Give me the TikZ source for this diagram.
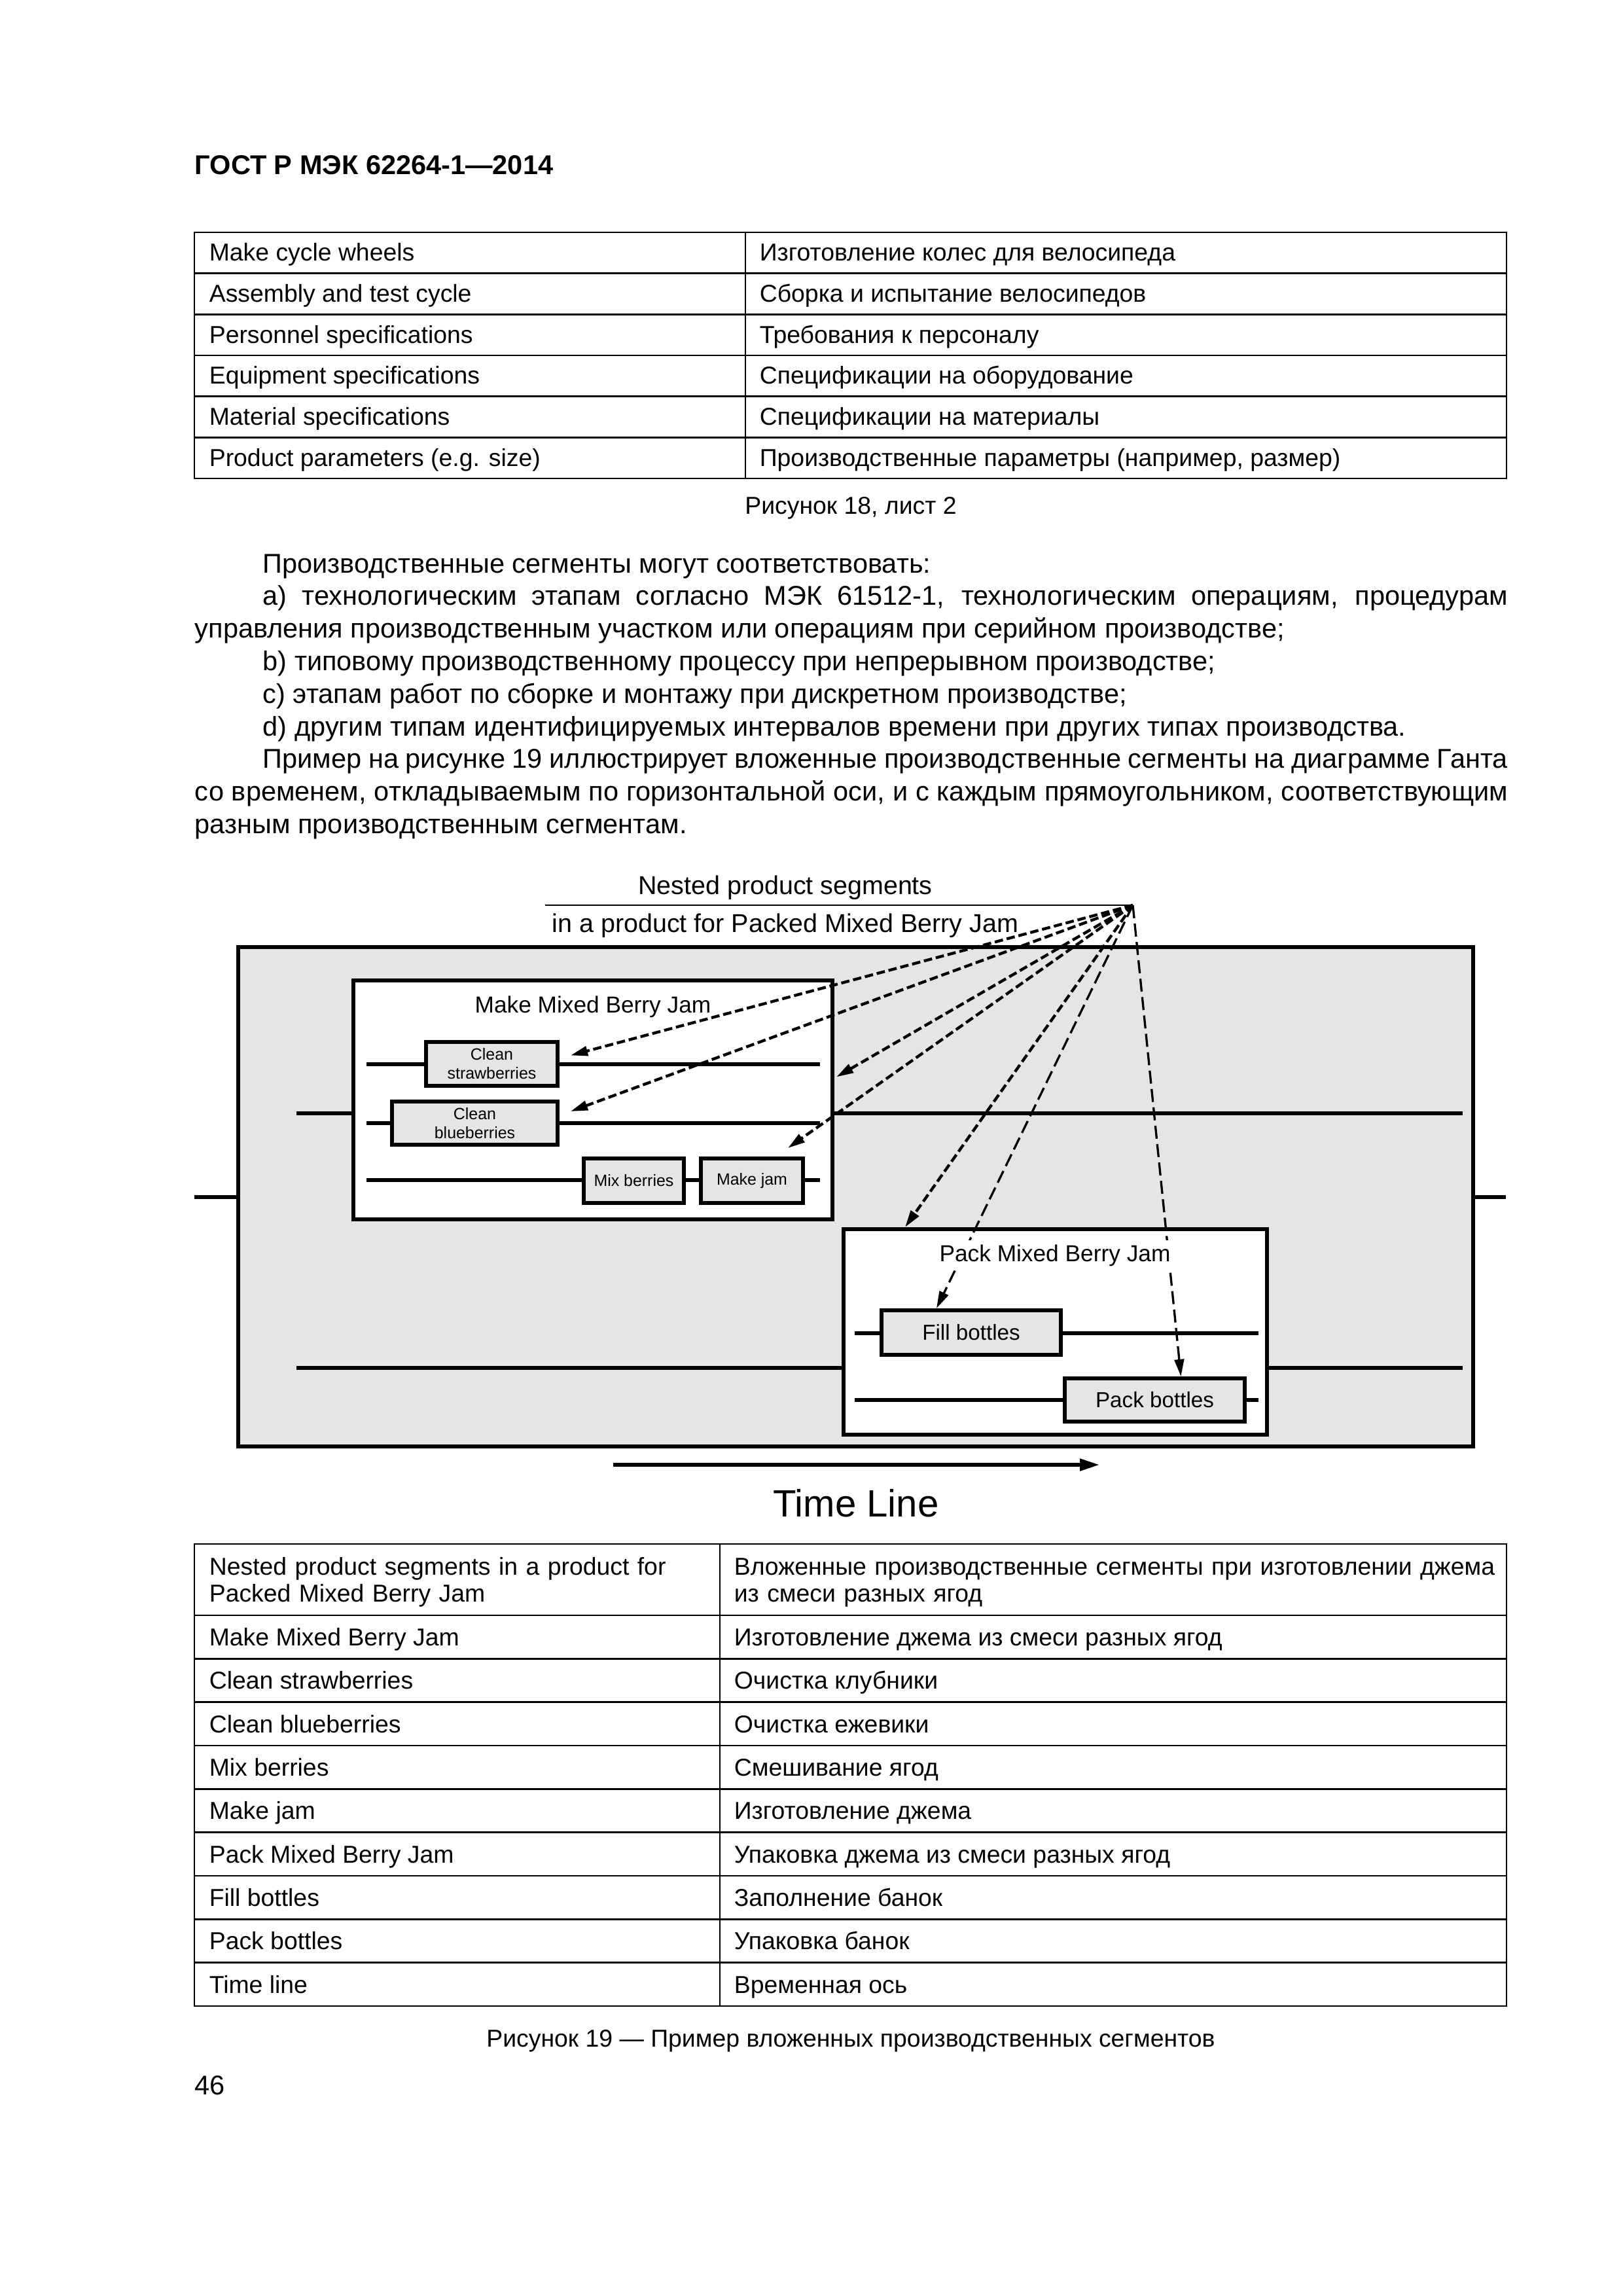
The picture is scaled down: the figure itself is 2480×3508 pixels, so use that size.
\documentclass[tikz,border=0pt]{standalone}
\usepackage{fontspec}
\setmainfont{Liberation Sans}
\usetikzlibrary{arrows.meta, positioning}

\newcommand{\pxu}{0.084667mm}

\tikzset{
  headtext/.style  = {inner sep=0pt, anchor=base west,
                      font=\fontsize{10}{12}\selectfont\bfseries},
  bodytext/.style  = {inner sep=0pt, anchor=base west, text width=169.85mm,
                      align=justify, font=\fontsize{10}{12}\selectfont},
  cell/.style      = {inner sep=0pt, anchor=base west,
                      font=\fontsize{9}{10.1}\selectfont},
  cellwide/.style  = {cell, text width=106mm, align=left},
  captext/.style   = {inner sep=0pt, anchor=base,
                      font=\fontsize{9}{11}\selectfont},
  rule/.style      = {line width=0.6pt},
  figlabel/.style  = {inner sep=0pt, anchor=base,
                      font=\fontsize{9.5}{11}\selectfont},
  envbox/.style    = {rectangle, draw, line width=1.45pt, fill=gray!20},
  segbox/.style    = {rectangle, draw, line width=1.45pt, fill=white},
  boxtitle/.style  = {anchor=base, inner sep=1.5pt,
                      font=\fontsize{8.5}{10}\selectfont},
  stepbox/.style   = {rectangle, draw, line width=1.45pt, fill=gray!20,
                      inner sep=0pt, align=center},
  stepsmall/.style = {stepbox, font=\fontsize{6}{7}\selectfont},
  steplarge/.style = {stepbox, font=\fontsize{8}{9.6}\selectfont},
  tline/.style     = {line width=1.4pt},
  ptr/.style       = {-{Triangle[length=6.3pt, width=3.5pt]}, line width=1.05pt,
                      dash pattern=on 3.1pt off 1.4pt},
  ptrthin/.style   = {-{Triangle[length=6.3pt, width=3.5pt]}, line width=0.8pt,
                      dash pattern=on 4.8pt off 2pt},
  timearrow/.style = {-{Triangle[length=7.2pt, width=4.3pt]}, line width=1.3pt},
  timelabel/.style = {anchor=base, inner sep=0pt, font=\fontsize{14}{16}\selectfont},
}

\begin{document}
\begin{tikzpicture}[x=\pxu, y=-\pxu]

  \path[use as bounding box, fill=white] (0,0) rectangle (2480,3508);

  % running head
  \node[headtext] (head) at (297,266) {ГОСТ Р МЭК 62264-1—2014};

  % table, figure 18 sheet 2
  \draw[rule] (297,355) rectangle (2302,731);
  \draw[rule] (1139,355) -- (1139,731);
  \foreach \k in {1,...,5}
    \draw[rule] (297,{355+62.67*\k}) -- (2302,{355+62.67*\k});
  \foreach \en/\ru [count=\i] in {
      Make cycle wheels/Изготовление колес для велосипеда,
      Assembly and test cycle/Сборка и испытание велосипедов,
      Personnel specifications/Требования к персоналу,
      Equipment specifications/Спецификации на оборудование,
      Material specifications/Спецификации на материалы,
      {Product parameters (e.g. size)/Производственные параметры (например, размер)}} {
    \node[cell] (ta-\i) at (319,{336.3+62.67*\i}) {\en};
    \node[cell] (tb-\i) at (1160,{336.3+62.67*\i}) {\ru};
  }
  \node[captext] (cap18) at (1300,785) {Рисунок 18, лист 2};

  % running text
  \node[bodytext] (body) at (297,875) {%
    \setlength{\parindent}{8.8mm}\setlength{\parskip}{0pt}%
    \hyphenpenalty=10000 \exhyphenpenalty=10000
    \hspace*{8.8mm}Производственные сегменты могут соответствовать:\par
    a) технологическим этапам согласно МЭК 61512-1, технологическим операциям, процедурам\linebreak
    управления производственным участком или операциям при серийном производстве;\par
    b) типовому производственному процессу при непрерывном производстве;\par
    c) этапам работ по сборке и монтажу при дискретном производстве;\par
    d) другим типам идентифицируемых интервалов времени при других типах производства.\par
    Пример на рисунке 19 иллюстрирует вложенные производственные сегменты на диаграмме Ганта\linebreak
    со временем, откладываемым по горизонтальной оси, и с каждым прямоугольником, соответствующим\linebreak
    разным производственным сегментам.\par};

  % figure 19
  \coordinate (src) at (1731,1383);
  \coordinate (ul) at (833,1383);
  \node[figlabel] (nps1) at (1200,1366) {Nested product segments};
  \node[figlabel] (nps2) at (1200,1424) {in a product for Packed Mixed Berry Jam};
  \draw[rule] (ul) -- (src);

  \draw[tline] (297,1829) -- (2301,1829);
  \node[envbox, minimum width=1887*\pxu, minimum height=763*\pxu] (env) at (1307.5,1828.5) {};
  \draw[tline] (453,1701) -- (2235,1701);
  \draw[tline] (453,2090) -- (2235,2090);

  \node[segbox, minimum width=732*\pxu, minimum height=365*\pxu] (make) at (906,1680.5) {};
  \node[segbox, minimum width=647*\pxu, minimum height=314*\pxu] (pack) at (1612.5,2035) {};
  \foreach \y in {1626,1716,1803}
    \draw[tline] (560,\y) -- (1253,\y);
  \foreach \y in {2037,2139}
    \draw[tline] (1306,\y) -- (1923,\y);

  \node[stepsmall, minimum width=201*\pxu, minimum height=67*\pxu] (cs) at (751.5,1625.5) {Clean\\strawberries};
  \node[stepsmall, minimum width=253*\pxu, minimum height=66*\pxu] (cb) at (725.5,1716) {Clean\\blueberries};
  \node[stepsmall, minimum width=153*\pxu, minimum height=68*\pxu] (mix) at (968.5,1804) {Mix berries};
  \node[stepsmall, right=1.69mm of mix, minimum width=156*\pxu, minimum height=68*\pxu] (jam) {Make jam};
  \node[steplarge, minimum width=274*\pxu, minimum height=68*\pxu] (fill) at (1484,2036) {Fill bottles};
  \node[steplarge, below right=2.54mm and 0mm of fill, minimum width=275*\pxu, minimum height=66*\pxu] (pb) {Pack bottles};

  \draw[ptr] (src) -- ([shift={(17,-13)}]cs.east);
  \draw[ptr] (src) -- ([shift={(17,-18)}]cb.east);
  \draw[ptr] (src) -- ([shift={(3,-35)}]make.east);
  \draw[ptr] (src) -- ([shift={(55,-13)}]jam.north);
  \draw[ptr] (src) -- ([shift={(97,0)}]pack.north west);
  \draw[ptrthin] (src) -- ([shift={(87,0)}]fill.north west);
  \draw[ptrthin] (src) -- ([shift={(40,0)}]pb.north);

  \node[boxtitle] (maket) at (906,1547) {Make Mixed Berry Jam};
  \node[boxtitle, fill=white] (packt) at (1612,1927) {Pack Mixed Berry Jam};

  \coordinate (t0) at (937,2238);
  \coordinate (t1) at (1680,2238);
  \draw[timearrow] (t0) -- (t1);
  \node[timelabel] (tl) at (1308,2317) {Time Line};

  % table, figure 19
  \draw[rule] (297,2359) rectangle (2302,3065);
  \draw[rule] (1100,2359) -- (1100,3065);
  \draw[rule] (297,2468) -- (2302,2468);
  \foreach \k in {1,...,8}
    \draw[rule] (297,{2468+66.33*\k}) -- (2302,{2468+66.33*\k});
  \node[cellwide] (tc-0) at (319,2406) {Nested product segments in a product for\\Packed Mixed Berry Jam};
  \node[cellwide] (td-0) at (1121,2406) {Вложенные производственные сегменты при изготовлении джема\\из смеси разных ягод};
  \foreach \en/\ru [count=\i] in {
      Make Mixed Berry Jam/Изготовление джема из смеси разных ягод,
      Clean strawberries/Очистка клубники,
      Clean blueberries/Очистка ежевики,
      Mix berries/Смешивание ягод,
      Make jam/Изготовление джема,
      Pack Mixed Berry Jam/Упаковка джема из смеси разных ягод,
      Fill bottles/Заполнение банок,
      Pack bottles/Упаковка банок,
      Time line/Временная ось} {
    \node[cell] (tc-\i) at (319,{2448+66.33*\i}) {\en};
    \node[cell] (td-\i) at (1121,{2448+66.33*\i}) {\ru};
  }
  \node[captext] (cap19) at (1300,3127) {Рисунок 19 — Пример вложенных производственных сегментов};

  % page number
  \node[headtext, font=\fontsize{10}{12}\selectfont] (pageno) at (297,3200) {46};

\end{tikzpicture}
\end{document}
